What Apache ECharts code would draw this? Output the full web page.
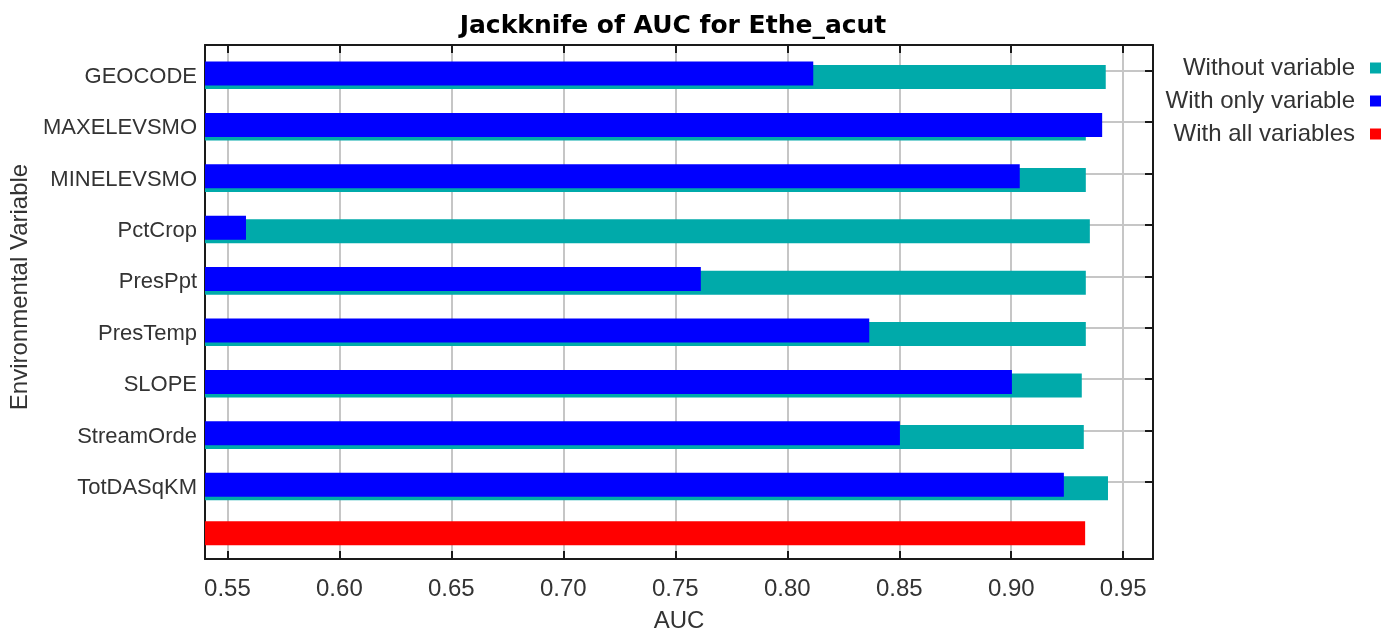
<!DOCTYPE html>
<html>
<head>
<meta charset="utf-8">
<script src="https://cdn.jsdelivr.net/npm/echarts@6/dist/echarts.min.js"></script>
<style>
  html, body { margin: 0; padding: 0; background: #ffffff; }
  #chart { width: 1393px; height: 631px; }
</style>
</head>
<body>
<div id="chart"></div>
<script>
// Jackknife test of variable importance (AUC)
const variables = ['GEOCODE', 'MAXELEVSMO', 'MINELEVSMO', 'PctCrop', 'PresPpt',
                   'PresTemp', 'SLOPE', 'StreamOrde', 'TotDASqKM'];
const withoutVariable  = [0.9422, 0.9333, 0.9333, 0.9351, 0.9333, 0.9333, 0.9315, 0.9324, 0.9432];
const withOnlyVariable = [0.8116, 0.9406, 0.9038, 0.5583, 0.7614, 0.8366, 0.9003, 0.8503, 0.9235];
const withAllVariables = 0.9330;
const seriesNames = ['Without variable', 'With only variable', 'With all variables'];
const aucMin = 0.54;
const aucMax = 0.9633;

// the last row holds the full model and has no label
const categories = variables.concat(['']);
const nVar = variables.length;

const FONT = 'Liberation Sans, Arial, sans-serif';
const TEXT = '#333333';
const GRID_LINE = '#c6c6c6';
const FRAME = '#1a1a1a';

const chart = echarts.init(document.getElementById('chart'), null, { renderer: 'canvas' });

const fmt = v => v.toFixed(2);
const onVariableRow = idx => idx < nVar;

const frame = { show: true, lineStyle: { color: FRAME, width: 2 } };

chart.setOption({
  animation: false,
  backgroundColor: '#ffffff',
  title: {
    text: 'Jackknife of AUC for Ethe_acut',
    left: 668,
    textAlign: 'center',
    top: 9,
    textStyle: { fontFamily: 'DejaVu Sans', fontWeight: 'bold', fontSize: 25, color: '#000000' }
  },
  legend: {
    data: seriesNames,
    orient: 'vertical',
    align: 'right',
    right: 7,
    top: 51,
    itemWidth: 11,
    itemHeight: 11,
    itemGap: 9,
    icon: 'rect',
    textStyle: { fontFamily: FONT, fontSize: 24, color: TEXT, lineHeight: 23, padding: [0, 10, 0, 0] }
  },
  grid: [
    { left: 205, right: 240, top: 45, bottom: 72, outerBoundsMode: 'none', containLabel: false },
    { left: 205, right: 240, top: 49.6, bottom: 67.4, outerBoundsMode: 'none', containLabel: false }
  ],
  xAxis: [
    {
      type: 'value', gridIndex: 0, position: 'bottom',
      min: aucMin, max: aucMax, splitNumber: 8,
      axisLine: frame,
      axisTick: { show: true, inside: true, length: 8, lineStyle: { color: FRAME, width: 2 } },
      axisLabel: { formatter: fmt, showMinLabel: false, showMaxLabel: false, margin: 18,
                   fontFamily: FONT, fontSize: 24, color: TEXT },
      splitLine: { show: true, lineStyle: { color: GRID_LINE, width: 2 } },
      name: 'AUC', nameLocation: 'middle', nameGap: 50,
      nameTextStyle: { fontFamily: FONT, fontSize: 24, color: TEXT }
    },
    {
      type: 'value', gridIndex: 0, position: 'top',
      min: aucMin, max: aucMax, splitNumber: 8,
      axisLine: frame,
      axisTick: { show: true, inside: true, length: 8, lineStyle: { color: FRAME, width: 2 } },
      axisLabel: { show: false },
      splitLine: { show: false }
    },
    {
      type: 'value', gridIndex: 1, show: false,
      min: aucMin, max: aucMax, splitNumber: 8,
      splitLine: { show: false }
    }
  ],
  yAxis: [
    {
      type: 'category', gridIndex: 0, position: 'left', inverse: true,
      data: categories,
      axisLine: frame,
      axisTick: { show: false },
      axisLabel: { fontFamily: FONT, fontSize: 22, color: TEXT, margin: 8,
                   verticalAlign: 'top', lineHeight: 12 },
      splitLine: { show: true, alignWithLabel: true, interval: onVariableRow,
                   lineStyle: { color: GRID_LINE, width: 2 } },
      name: 'Environmental Variable', nameLocation: 'middle', nameGap: 159, nameRotate: 90,
      nameTextStyle: { fontFamily: FONT, fontSize: 24, color: TEXT, padding: [0, 0, 0, 30] }
    },
    {
      type: 'category', gridIndex: 0, position: 'right', inverse: true,
      data: categories,
      axisLine: frame,
      axisTick: { show: true, inside: true, length: 8, alignWithLabel: true, interval: onVariableRow,
                  lineStyle: { color: FRAME, width: 2 } },
      axisLabel: { show: false },
      splitLine: { show: false }
    },
    {
      type: 'category', gridIndex: 1, inverse: true, show: false,
      data: categories
    }
  ],
  series: [
    {
      name: seriesNames[1], type: 'bar', xAxisIndex: 2, yAxisIndex: 2,
      data: withOnlyVariable.concat([null]),
      barWidth: 24, barGap: '-85%',
      itemStyle: { color: '#0000ff' }, z: 3
    },
    {
      name: seriesNames[0], type: 'bar', xAxisIndex: 2, yAxisIndex: 2,
      data: withoutVariable.concat([null]),
      barWidth: 24, barGap: '-85%',
      itemStyle: { color: '#00aaaa' }, z: 2
    },
    {
      name: seriesNames[2], type: 'bar', xAxisIndex: 0, yAxisIndex: 1,
      data: new Array(nVar).fill(null).concat([withAllVariables]),
      barWidth: 24,
      itemStyle: { color: '#ff0000' }, z: 2
    }
  ]
});
</script>
</body>
</html>
